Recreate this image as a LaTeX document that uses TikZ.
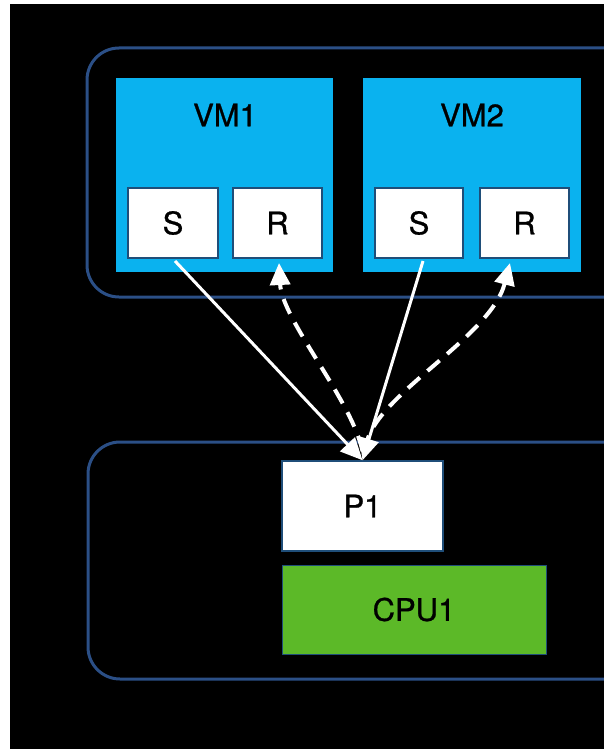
\documentclass[tikz,border=0pt]{standalone}
\usepackage{fontspec}
\setmainfont{TeX Gyre Heros}
\newfontfamily\boxfont{TeX Gyre Heros}[FakeBold=0.9]
\usetikzlibrary{arrows.meta,calc}

\definecolor{frameblue}{HTML}{2B4F86}
\definecolor{vmblue}{HTML}{0AB2EF}
\definecolor{edgeblue}{HTML}{1F4E79}
\definecolor{cpugreen}{HTML}{5CB928}

\tikzset{
  container/.style={draw=frameblue, line width=3pt, rounded corners=32pt},
  textfont/.style={font=\boxfont\fontsize{31}{32}\selectfont},
  vmbox/.style={fill=vmblue, draw=none, minimum width=217pt, minimum height=194pt,
    inner sep=0pt, outer sep=0pt},
  portbox/.style={fill=white, draw=edgeblue, line width=1.5pt, minimum height=70pt,
    inner sep=0pt, outer sep=0pt, textfont},
  label/.style={textfont, inner sep=0pt},
  tip/.style={-{Triangle[length=22pt,width=20pt]}},
  sendline/.style={white, line width=3pt, tip},
  recvline/.style={white, line width=4pt, dash pattern=on 16pt off 10pt, tip}
}

\begin{document}
\begin{tikzpicture}[x=1pt, y=-1pt]
  % page and black canvas
  \fill[white] (0,0) rectangle (604,749);
  \useasboundingbox (0,0) rectangle (604,749);
  \fill[black] (10,4) rectangle (604,749);

  % host containers running off the right edge
  \begin{scope}
    \clip (10,4) rectangle (604,749);
    \draw[container] (87,48) rectangle (660,297);
    \draw[container] (88,442) rectangle (660,679);
  \end{scope}

  % virtual machines
  \node[vmbox] (vm1) at (224.5,175) {};
  \node[vmbox, minimum width=218pt] (vm2) at (472,175) {};
  \node[label] (vm1label) at (225,115) {VM1};
  \node[label] (vm2label) at (472,115) {VM2};

  % send / receive ports
  \node[portbox, minimum width=90pt] (s1) at (173,223) {S};
  \node[portbox, minimum width=89pt] (r1) at (277.5,223) {R};
  \node[portbox, minimum width=88pt] (s2) at (419,223) {S};
  \node[portbox, minimum width=89pt] (r2) at (524.5,223) {R};

  % physical port and CPU
  \node[fill=white, draw=edgeblue, line width=1.5pt, minimum width=161pt, minimum height=90pt,
        inner sep=0pt, textfont] (p1) at (362.5,506) {P1};
  \node[fill=cpugreen, draw=edgeblue, line width=1pt, minimum width=264pt, minimum height=89pt,
        inner sep=0pt, textfont] (cpu1) at (414,609.5) {CPU1};

  % anchor points for the connectors
  \coordinate (s1out) at ($(s1.south)+(2,3)$);
  \coordinate (s2out) at ($(s2.south)+(4,3)$);
  \coordinate (r1in) at ($(r1.south)+(1.5,5)$);
  \coordinate (r2in) at ($(r2.south)+(-14.5,5)$);
  \coordinate (p1in) at ($(p1.north)+(0,0)$);
  \coordinate (p1a) at ($(p1.north)+(0,-9)$);
  \coordinate (p1b) at ($(p1.north)+(3,-9)$);

  % traffic sent from each VM to the port
  \draw[sendline] (s1out) -- (p1in);
  \draw[sendline] (s2out) -- (p1in);

  % traffic delivered back to each VM
  \draw[recvline] (p1a) .. controls (352,400) and (282,320) .. (r1in);
  \draw[recvline] (p1b) .. controls (365,400) and (490,340) .. (r2in);
\end{tikzpicture}
\end{document}
